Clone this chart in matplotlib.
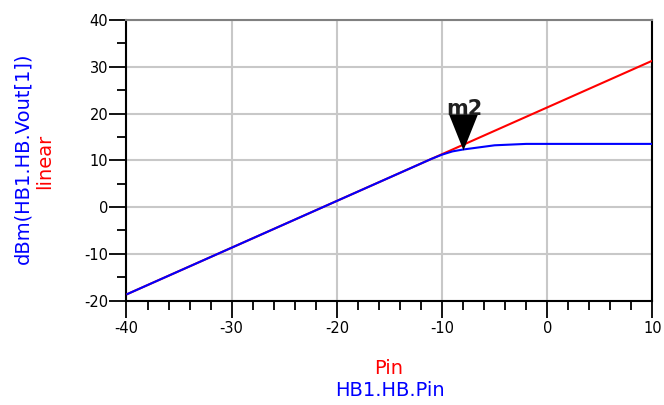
import matplotlib
matplotlib.use("Agg")
import matplotlib.pyplot as plt
from matplotlib.path import Path
from matplotlib.ticker import MultipleLocator

plt.rcParams["font.family"] = ["DejaVu Sans"]
plt.rcParams["axes.unicode_minus"] = False

# Input power sweep (dBm)
pin = [-40, -35, -30, -25, -20, -15, -12, -11, -10, -9, -8, -7, -6, -5, -4,
       -3, -2, 0, 5, 10]
# Harmonic-balance output power at the fundamental (dBm)
vout = [-18.7, -13.7, -8.7, -3.7, 1.3, 6.3, 9.3, 10.3, 11.2, 11.9, 12.3, 12.6,
        12.9, 13.2, 13.3, 13.4, 13.5, 13.5, 13.5, 13.5]
# Ideal linear extrapolation of the small-signal gain (dBm)
linear = [-18.7, -13.7, -8.7, -3.7, 1.3, 6.3, 9.3, 10.3, 11.3, 12.3, 13.3, 14.3,
          15.3, 16.3, 17.3, 18.3, 19.3, 21.3, 26.3, 31.3]

marker_pin = -8
marker_val = 12.3
marker_name = "m2"

x_ticks = [-40, -30, -20, -10, 0, 10]
y_ticks = [-20, -10, 0, 10, 20, 30, 40]

fig = plt.figure(figsize=(6.64, 4.05), dpi=100)
ax = fig.add_axes([0.1905, 0.258, 0.792, 0.6926])

ax.plot(pin, linear, color="#ff0000", lw=1.5, solid_capstyle="butt", zorder=3)
ax.plot(pin, vout, color="#0000ff", lw=1.5, solid_capstyle="butt", zorder=4)

# Marker: downward arrow with its tip on the trace point
arrow = Path([(-0.4, 1.0), (0.4, 1.0), (0.0, 0.0), (-0.4, 1.0)],
             [Path.MOVETO, Path.LINETO, Path.LINETO, Path.CLOSEPOLY])
ax.plot([marker_pin], [marker_val], marker=arrow, markersize=52,
        color="black", markeredgewidth=0, zorder=6)
ax.annotate(marker_name, xy=(marker_pin, marker_val), xytext=(1, 29),
            textcoords="offset points", ha="center", va="center",
            fontsize=15, fontweight="bold", color="#202020", zorder=7)

ax.set_xlim(-40, 10)
ax.set_ylim(-20, 40)
ax.set_xticks(x_ticks)
ax.set_yticks(y_ticks)
ax.xaxis.set_minor_locator(MultipleLocator(2))
ax.yaxis.set_minor_locator(MultipleLocator(5))

ax.grid(True, which="major", color="#c8c8c8", lw=1.5, zorder=0)
ax.set_axisbelow(True)

ax.tick_params(which="major", direction="out", length=12, width=1.3,
               labelsize=10.5, colors="black")
ax.tick_params(axis="x", which="major", pad=3)
ax.tick_params(axis="y", which="major", pad=1)
ax.tick_params(which="minor", direction="out", length=6.5, width=1.3)

for side in ("left", "bottom", "right"):
    ax.spines[side].set_color("black")
    ax.spines[side].set_linewidth(1.5)
ax.spines["top"].set_color("#808080")
ax.spines["top"].set_linewidth(1.5)

# Axis titles (two traces share each axis)
fig.text(23 / 664, 1 - 158 / 405, "dBm(HB1.HB.Vout[1])", color="#0000ff",
         rotation=90, ha="center", va="center", fontsize=14)
fig.text(45 / 664, 1 - 161 / 405, "linear", color="#ff0000",
         rotation=90, ha="center", va="center", fontsize=14)
fig.text(389 / 664, 1 - 368 / 405, "Pin", color="#ff0000",
         ha="center", va="center", fontsize=14)
fig.text(390 / 664, 1 - 391 / 405, "HB1.HB.Pin", color="#0000ff",
         ha="center", va="center", fontsize=14)

fig.savefig("out.png", dpi=100)
